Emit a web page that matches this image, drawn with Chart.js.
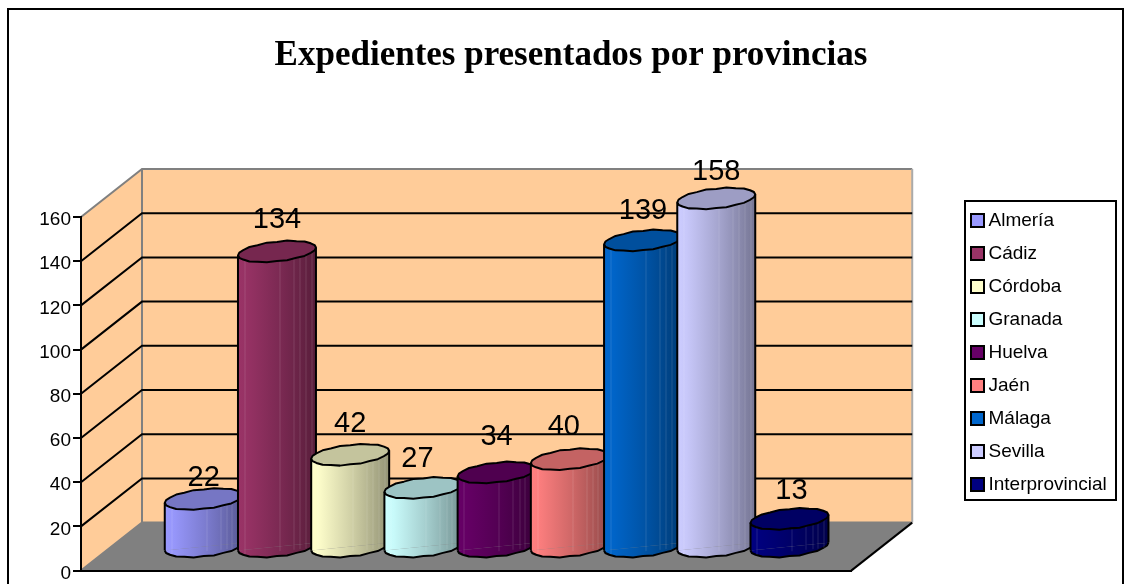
<!DOCTYPE html>
<html>
<head>
<meta charset="utf-8">
<style>html,body{margin:0;padding:0;background:#fff}canvas{display:block}</style>
<script src="https://cdn.jsdelivr.net/npm/chart.js@4"></script>
</head>
<body>
<canvas id="c" width="1125" height="584"></canvas>
<script>
const chartTitle = 'Expedientes presentados por provincias';
const provinces = ['Almería','Cádiz','Córdoba','Granada','Huelva','Jaén','Málaga','Sevilla','Interprovincial'];
const values = [22,134,42,27,34,40,139,158,13];
const colors = ['#9999FF','#993366','#FFFFCC','#CCFFFF','#660066','#FF8080','#0066CC','#CCCCFF','#000080'];
const yTicks = [0,20,40,60,80,100,120,140,160];
const labelNudgeX = [0,0,0,-6,0,-6,0,0,2];
const labelNudgeY = [8,-2,-2,0,-6,-3,0,3,1];
const facetLines = [0.08,0.53,0.71,0.79,0.86,0.94];

const DEPTH_X = 61, DEPTH_Y = 48, BAR_DX = 30.5, BAR_DY = 23, SHEAR = 0.1, RY = 9.7, BAR_PCT = 1.065;
const SLOTS_EACH_SIDE = 5.26;

function shade(hex, f){
  const n = parseInt(hex.slice(1),16);
  const c = [(n>>16)&255,(n>>8)&255,n&255].map(v=>Math.round(v*f));
  return `rgb(${c[0]},${c[1]},${c[2]})`;
}
function barGradient(ctx2d, x0, x1, col){
  const g = ctx2d.createLinearGradient(x0,0,x1,0);
  g.addColorStop(0,col); g.addColorStop(0.12,shade(col,0.98));
  g.addColorStop(0.55,shade(col,0.8)); g.addColorStop(1,shade(col,0.58));
  return g;
}
function scriptedFill(c){
  const i = c.datasetIndex, chart = c.chart, xs = chart.scales.x;
  if(!xs || !xs.width) return colors[i];
  const slot = xs.getPixelForValue(1)-xs.getPixelForValue(0);
  const cx = xs.getPixelForValue(i);
  const r = slot*BAR_PCT/2;
  return barGradient(chart.ctx, cx-r, cx+r, colors[i]);
}
function ellipsePath(ctx, cx, cy, rx, ry, from, to){
  const N = Math.round(Math.abs(to-from)/Math.PI*12);
  ctx.beginPath();
  for(let k=0;k<=N;k++){
    const a = from+(to-from)*k/N;
    const wob = (k%2?1.05:0.98);
    const px = cx+rx*Math.cos(a), py = cy+ry*wob*Math.sin(a);
    if(k===0) ctx.moveTo(px,py); else ctx.lineTo(px,py);
  }
}

const scene = {
  id:'scene',
  afterLayout(chart){
    chart.titleBlock.left = 17; chart.titleBlock.right = 1125;
    const lg = chart.legend;
    const shift = 961 - lg.left;
    lg.left += shift; lg.right += shift;
    lg.top = 197; lg.bottom = lg.top + lg.height;
  },
  beforeDraw(chart){
    const {ctx, chartArea:a} = chart;
    const ys = chart.scales.y;
    const L=a.left, R=a.right, T=a.top, B=a.bottom, dx=DEPTH_X, dy=DEPTH_Y;
    ctx.save();
    ctx.fillStyle='#fff'; ctx.fillRect(0,0,chart.width,chart.height);
    ctx.strokeStyle='#000'; ctx.lineWidth=2;
    ctx.strokeRect(8,9,1115,700);
    ctx.fillStyle='#FFCC99';
    ctx.beginPath();ctx.moveTo(L,T);ctx.lineTo(L+dx,T-dy);ctx.lineTo(L+dx,B-dy);ctx.lineTo(L,B);ctx.closePath();ctx.fill();
    ctx.fillRect(L+dx,T-dy,R-L,B-T);
    ctx.fillStyle='#808080';
    ctx.beginPath();ctx.moveTo(L,B);ctx.lineTo(L+dx,B-dy);ctx.lineTo(R+dx,B-dy);ctx.lineTo(R,B);ctx.closePath();ctx.fill();
    ctx.strokeStyle='#808080'; ctx.lineWidth=2;
    ctx.beginPath();
    ctx.moveTo(L,T);ctx.lineTo(L+dx,T-dy);ctx.lineTo(R+dx,T-dy);
    ctx.moveTo(L+dx,T-dy);ctx.lineTo(L+dx,B-dy);ctx.lineTo(R+dx,B-dy);
    ctx.moveTo(L+dx,B-dy);ctx.lineTo(L,B);
    ctx.stroke();
    ctx.strokeStyle='#AAAAAA';
    ctx.beginPath();ctx.moveTo(R+dx,T-dy);ctx.lineTo(R+dx,B-dy);ctx.stroke();
    ctx.strokeStyle='#000';
    ctx.beginPath();ctx.moveTo(R+dx,B-dy);ctx.lineTo(R,B);ctx.stroke();
    ctx.beginPath();
    yTicks.forEach(t=>{
      if(t===0||t===yTicks[yTicks.length-1]) return;
      const y = ys.getPixelForValue(t);
      ctx.moveTo(L,y);ctx.lineTo(L+dx,y-dy);ctx.lineTo(R+dx,y-dy);
    });
    ctx.stroke();
    ctx.fillStyle='#fff';ctx.fillRect(965,201,151,299);
    ctx.strokeStyle='#000';ctx.lineWidth=2;ctx.strokeRect(965,201,151,299);
    ctx.restore();
  },
  beforeDatasetDraw(chart,args){
    const ctx=chart.ctx;
    const el=chart.getDatasetMeta(args.index).data[0];
    const {x}=el.getProps(['x'],true);
    ctx.save();
    ctx.translate(BAR_DX,-BAR_DY);
    ctx.transform(1,-SHEAR,0,1,0,SHEAR*x);
  },
  afterDatasetDraw(chart,args){
    const i=args.index, ctx=chart.ctx;
    const el=chart.getDatasetMeta(i).data[0];
    const {x,y,base,width}=el.getProps(['x','y','base','width'],true);
    const r=width/2;
    ctx.lineWidth=2;ctx.strokeStyle='#000';ctx.lineJoin='round';
    ellipsePath(ctx,x,base,r,RY,0,Math.PI);
    ctx.fillStyle=barGradient(ctx,x-r,x+r,colors[i]);
    ctx.fill();ctx.stroke();
    ctx.save();
    ctx.lineWidth=1;ctx.strokeStyle='rgba(255,255,255,0.13)';
    ctx.beginPath();
    facetLines.forEach(f=>{const fx=Math.round(x-r+2*r*f)+0.5;ctx.moveTo(fx,y);ctx.lineTo(fx,base+RY*0.5);});
    ctx.stroke();
    ctx.restore();
    ctx.beginPath();
    ctx.moveTo(x-r,y);ctx.lineTo(x-r,base);
    ctx.moveTo(x+r,y);ctx.lineTo(x+r,base);
    ctx.stroke();
    ellipsePath(ctx,x,y,r,RY,0,Math.PI*2);
    ctx.closePath();
    ctx.fillStyle=shade(colors[i],0.77);
    ctx.fill();ctx.stroke();
    ctx.restore();
  },
  afterDatasetsDraw(chart){
    const ctx=chart.ctx;
    ctx.save();
    ctx.font='29px "Liberation Sans"';ctx.fillStyle='#000';
    ctx.textAlign='center';ctx.textBaseline='middle';
    values.forEach((v,i)=>{
      const el=chart.getDatasetMeta(i).data[0];
      const {x,y}=el.getProps(['x','y'],true);
      ctx.fillText(String(v),x+BAR_DX+labelNudgeX[i],y-BAR_DY-29+labelNudgeY[i]);
    });
    ctx.restore();
  },
  afterDraw(chart){
    const ctx=chart.ctx;
    ctx.save();
    ctx.strokeStyle='#000';ctx.lineWidth=2;
    chart.legend.legendHitBoxes.forEach((h,i)=>{
      const x=971, y=h.top+h.height/2-6.5;
      ctx.fillStyle=colors[i];
      ctx.fillRect(x,y,13,13);ctx.strokeRect(x,y,13,13);
    });
    ctx.restore();
  }
};

new Chart(document.getElementById('c'),{
  type:'bar',
  data:{
    datasets:provinces.map((p,i)=>({
      label:p,
      data:[{x:i,y:values[i]}],
      backgroundColor:scriptedFill,
      borderWidth:0,
      clip:false,
      grouped:false,
      order:provinces.length-i,
      categoryPercentage:1,
      barPercentage:BAR_PCT
    }))
  },
  options:{
    responsive:false,
    animation:false,
    layout:{padding:{left:17,right:118,top:35,bottom:13}},
    plugins:{
      title:{display:true,text:chartTitle,color:'#000',
        font:{family:'"Liberation Serif"',size:35,weight:'bold'},
        padding:{top:0,bottom:140}},
      legend:{display:true,position:'right',align:'start',
        labels:{
          font:{family:'"Liberation Sans"',size:19},color:'#000',
          boxWidth:4,boxHeight:13,padding:14,
          generateLabels(){
            return provinces.map((p,i)=>({text:p,fillStyle:'rgba(0,0,0,0)',strokeStyle:'rgba(0,0,0,0)',lineWidth:0,datasetIndex:i}));
          }
        }},
      tooltip:{enabled:false}
    },
    scales:{
      x:{type:'linear',offset:false,min:(provinces.length-1)/2-SLOTS_EACH_SIDE,max:(provinces.length-1)/2+SLOTS_EACH_SIDE,
         grid:{drawOnChartArea:false,drawTicks:false},border:{color:'#000',width:2},ticks:{display:false},
         afterFit(s){s.height=0;}},
      y:{min:0,max:160,
         afterBuildTicks(s){s.ticks=yTicks.map(v=>({value:v}));},
         grid:{drawOnChartArea:false,color:'#000',lineWidth:2,tickLength:8},
         border:{color:'#000',width:2},
         ticks:{color:'#000',font:{family:'"Liberation Sans"',size:19},padding:2,labelOffset:3},
         afterFit(s){s.width=64;}}
    }
  },
  plugins:[scene]
});
</script>
</body>
</html>
